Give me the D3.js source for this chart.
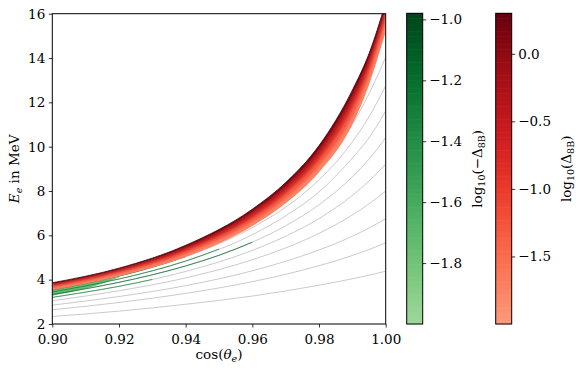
<!DOCTYPE html>
<meta charset="utf-8">
<style>
body { margin: 0; background: #fff; }
text { font-family: "DejaVu Serif", serif; fill: #000; }
</style>
<body>
<div id="chart"></div>
<script src="https://cdnjs.cloudflare.com/ajax/libs/d3/7.8.5/d3.min.js"></script>
<script>

var cosVals = [0.90, 0.92, 0.94, 0.96, 0.97, 0.98, 0.99, 0.995, 1.00];

// thin gray curves, E_e (MeV) at each cosVals entry
var grayLines = [
  [2.34, 2.58, 2.89, 3.26, 3.49, 3.75, 4.04, 4.20, 4.38],
  [2.64, 2.97, 3.38, 3.91, 4.24, 4.63, 5.09, 5.36, 5.66],
  [2.85, 3.24, 3.73, 4.40, 4.83, 5.34, 5.96, 6.33, 6.75],
  [3.05, 3.50, 4.08, 4.90, 5.43, 6.09, 6.92, 7.42, 8.00],
  [3.20, 3.70, 4.37, 5.32, 5.96, 6.76, 7.80, 8.45, 9.21],
  [3.33, 3.88, 4.62, 5.69, 6.43, 7.38, 8.64, 9.44, 10.41],
  [3.44, 4.03, 4.84, 6.03, 6.88, 7.96, 9.49, 10.40, 11.61],
  [3.54, 4.16, 5.04, 6.35, 7.27, 8.50, 10.22, 11.35, 12.75],
  [3.63, 4.29, 5.23, 6.63, 7.67, 9.05, 11.01, 12.39, 14.04],
  [3.70, 4.38, 5.37, 6.87, 7.97, 9.50, 11.70, 13.21, 15.20]
];

// red filled band: level boundaries from top (dark) to bottom (light)
var bandLevels = [
  [3.86, 4.52, 5.55, 7.18, 8.38, 10.05, 12.55, 14.20, 16.50],
  [3.81, 4.47, 5.47, 7.07, 8.24, 9.87, 12.32, 13.99, 16.30],
  [3.74, 4.39, 5.36, 6.91, 8.05, 9.63, 12.01, 13.71, 16.05],
  [3.68, 4.32, 5.26, 6.76, 7.87, 9.39, 11.70, 13.43, 15.80],
  [3.60, 4.24, 5.14, 6.59, 7.65, 9.11, 11.34, 13.11, 15.50],
  [3.53, 4.16, 5.02, 6.42, 7.45, 8.85, 11.00, 12.80, 15.20]
];
// log10(Delta_8B) of each strip between two levels
var bandValues = [0.2, -0.3, -0.8, -1.3, -1.75];

// green contours below the band (negative Delta_8B)
var greenCos = [0.90, 0.91, 0.92, 0.93, 0.94, 0.95, 0.96];
var greenLines = [
  [3.54, 3.83, 4.16, 4.56, 5.04, null, null],
  [3.44, 3.72, 4.03, 4.40, 4.84, 5.38, null],
  [3.33, 3.59, 3.88, 4.22, 4.62, 5.10, 5.69],
  [3.20, 3.44, 3.70, 4.01, null, null, null]
];
var greenLineValues = [-1.15, -1.3, -1.2, -1.4];
// light green patch at the left end
var greenFillTop = [3.53, 3.82, 4.12, null, null, null, null];
var greenFillBot = [3.28, 3.60, 4.10, null, null, null, null];

// colorbar ranges and ticks
var greenRange = [-2.0, -0.98];
var greenTicks = [-1.0, -1.2, -1.4, -1.6, -1.8];
var redRange = [-2.0, 0.30];
var redTicks = [0.0, -0.5, -1.0, -1.5];
var xTicks = [0.90, 0.92, 0.94, 0.96, 0.98, 1.00];
var yTicks = [2, 4, 6, 8, 10, 12, 14, 16];

var W = 582, H = 373;
var plot = {left: 52.3, right: 385.7, top: 13.7, bottom: 324};

var svg = d3.select("#chart").append("svg")
    .attr("width", W)
    .attr("height", H);

var x = d3.scaleLinear().domain([0.90, 1.00]).range([plot.left, plot.right]);
var y = d3.scaleLinear().domain([2, 16]).range([plot.bottom, plot.top]);

var redColor = d3.scaleLinear().domain(redRange).range([0.35, 1]);
var greenColor = d3.scaleLinear().domain(greenRange).range([0.38, 1]);

var defs = svg.append("defs");
defs.append("clipPath").attr("id", "plotclip")
  .append("rect")
    .attr("x", plot.left).attr("y", plot.top)
    .attr("width", plot.right - plot.left)
    .attr("height", plot.bottom - plot.top);
defs.append("filter").attr("id", "soft")
    .attr("x", "-5%").attr("y", "-5%").attr("width", "110%").attr("height", "110%")
  .append("feGaussianBlur").attr("stdDeviation", 1.1);

var pts = function(arr, xs) {
  return arr.map(function(v, i) { return {c: xs[i], e: v}; });
};

var line = d3.line()
    .defined(function(d) { return d.e != null; })
    .x(function(d) { return x(d.c); })
    .y(function(d) { return y(d.e); })
    .curve(d3.curveMonotoneX);

var area = d3.area()
    .defined(function(d) { return d.lo != null && d.hi != null; })
    .x(function(d) { return x(d.c); })
    .y0(function(d) { return y(d.lo); })
    .y1(function(d) { return y(d.hi); })
    .curve(d3.curveMonotoneX);

var g = svg.append("g").attr("clip-path", "url(#plotclip)");

// gray curves
g.selectAll(".gray")
  .data(grayLines)
  .enter().append("path")
    .attr("class", "gray")
    .attr("fill", "none")
    .attr("stroke", "#a6a6a6")
    .attr("stroke-width", 0.6)
    .attr("d", function(d) { return line(pts(d, cosVals)); });

// green patch + contour lines
g.append("path")
    .attr("fill", d3.interpolateGreens(greenColor(-1.75)))
    .attr("d", area(greenCos.map(function(c, i) {
      return {c: c, hi: greenFillTop[i], lo: greenFillBot[i]};
    })));

g.selectAll(".green")
  .data(greenLines)
  .enter().append("path")
    .attr("class", "green")
    .attr("fill", "none")
    .attr("stroke", function(d, i) { return d3.interpolateGreens(greenColor(greenLineValues[i])); })
    .attr("stroke-width", 0.75)
    .attr("d", function(d) { return line(pts(d, greenCos)); });

// red band, strip by strip, softened and clipped to the outline
var outline = cosVals.map(function(c, i) {
  return {c: c, hi: bandLevels[0][i], lo: bandLevels[bandLevels.length - 1][i]};
});
defs.append("clipPath").attr("id", "bandclip")
  .append("path").attr("d", area(outline));

var band = g.append("g").attr("clip-path", "url(#bandclip)")
  .append("g").attr("filter", "url(#soft)");

bandValues.forEach(function(v, k) {
  var hi = bandLevels[k], lo = bandLevels[k + 1];
  // widen outer strips so the blur does not fade at the edges
  var strip = cosVals.map(function(c, i) {
    return {c: c, hi: k === 0 ? hi[i] + 0.6 : hi[i], lo: k === bandValues.length - 1 ? lo[i] - 0.6 : lo[i]};
  });
  band.append("path")
      .attr("fill", d3.interpolateReds(redColor(v)))
      .attr("stroke", d3.interpolateReds(redColor(v)))
      .attr("stroke-width", 0.3)
      .attr("d", area(strip));
});
// dark upper rim
g.append("path")
    .attr("fill", "none")
    .attr("stroke", "#3d0008")
    .attr("stroke-width", 0.8)
    .attr("d", line(pts(bandLevels[0], cosVals)));

// frame
svg.append("rect")
    .attr("x", plot.left).attr("y", plot.top)
    .attr("width", plot.right - plot.left)
    .attr("height", plot.bottom - plot.top)
    .attr("fill", "none")
    .attr("stroke", "#000")
    .attr("stroke-width", 1);

// axes
var xAxis = svg.append("g")
    .attr("transform", "translate(0," + plot.bottom + ")")
    .call(d3.axisBottom(x).tickValues(xTicks).tickFormat(d3.format(".2f"))
      .tickSize(3.5).tickSizeOuter(0).tickPadding(7));
var yAxis = svg.append("g")
    .attr("transform", "translate(" + plot.left + ",0)")
    .call(d3.axisLeft(y).tickValues(yTicks).tickSize(3.5).tickSizeOuter(0).tickPadding(3.5));

[xAxis, yAxis].forEach(function(a) {
  a.select(".domain").remove();
  a.selectAll("line").attr("stroke", "#000").attr("stroke-width", 0.8);
  a.selectAll("text").attr("font-family", "DejaVu Serif").attr("font-size", 13.5).attr("fill", "#000");
});

// axis labels
var xl = svg.append("text")
    .attr("x", (plot.left + plot.right) / 2)
    .attr("y", 359)
    .attr("text-anchor", "middle")
    .attr("font-size", 13.5);
xl.append("tspan").text("cos(");
xl.append("tspan").attr("font-style", "italic").text("θ");
xl.append("tspan").attr("font-style", "italic").attr("font-size", 9.5).attr("dy", 2.5).text("e");
xl.append("tspan").attr("dy", -2.5).text(")");

var yl = svg.append("text")
    .attr("transform", "translate(19," + ((plot.top + plot.bottom) / 2) + ") rotate(-90)")
    .attr("text-anchor", "middle")
    .attr("font-size", 13.5);
yl.append("tspan").attr("font-style", "italic").text("E");
yl.append("tspan").attr("font-style", "italic").attr("font-size", 9.5).attr("dy", 2.5).text("e");
yl.append("tspan").attr("dy", -2.5).text(" in MeV");

// colorbars
function colorbar(x0, range, ticks, interp, tmap, label) {
  var cy = d3.scaleLinear().domain(range).range([plot.bottom, 13.3]);
  var cb = svg.append("g");
  var n = 120;
  var step = (range[1] - range[0]) / n;
  d3.range(n).forEach(function(i) {
    var v0 = range[0] + i * step;
    cb.append("rect")
        .attr("x", x0).attr("width", 16)
        .attr("y", cy(v0 + step) - 0.3)
        .attr("height", cy(v0) - cy(v0 + step) + 0.6)
        .attr("fill", interp(tmap(v0 + step / 2)));
  });
  cb.append("rect")
      .attr("x", x0).attr("y", 13.3)
      .attr("width", 16).attr("height", plot.bottom - 13.3)
      .attr("fill", "none").attr("stroke", "#000").attr("stroke-width", 1);
  var ax = cb.append("g")
      .attr("transform", "translate(" + (x0 + 16) + ",0)")
      .call(d3.axisRight(cy).tickValues(ticks).tickFormat(d3.format(".1f"))
        .tickSize(3.5).tickSizeOuter(0).tickPadding(3));
  ax.select(".domain").remove();
  ax.selectAll("line").attr("stroke", "#000").attr("stroke-width", 0.8);
  ax.selectAll("text").attr("font-family", "DejaVu Serif").attr("font-size", 13.5).attr("fill", "#000");

  var t = svg.append("text")
      .attr("transform", "translate(" + label.x + "," + ((plot.top + plot.bottom) / 2) + ") rotate(-90)")
      .attr("text-anchor", "middle")
      .attr("font-size", 13.5);
  t.append("tspan").text("log");
  t.append("tspan").attr("font-size", 9.5).attr("dy", 2.5).text("10");
  t.append("tspan").attr("dy", -2.5).text(label.neg ? "(−Δ" : "(Δ");
  t.append("tspan").attr("font-size", 9.5).attr("dy", 2.5).text("8B");
  t.append("tspan").attr("dy", -2.5).text(")");
}

colorbar(406.7, greenRange, greenTicks, d3.interpolateGreens, greenColor, {x: 482, neg: true});
colorbar(495.7, redRange, redTicks, d3.interpolateReds, redColor, {x: 571, neg: false});

</script>
</body>
